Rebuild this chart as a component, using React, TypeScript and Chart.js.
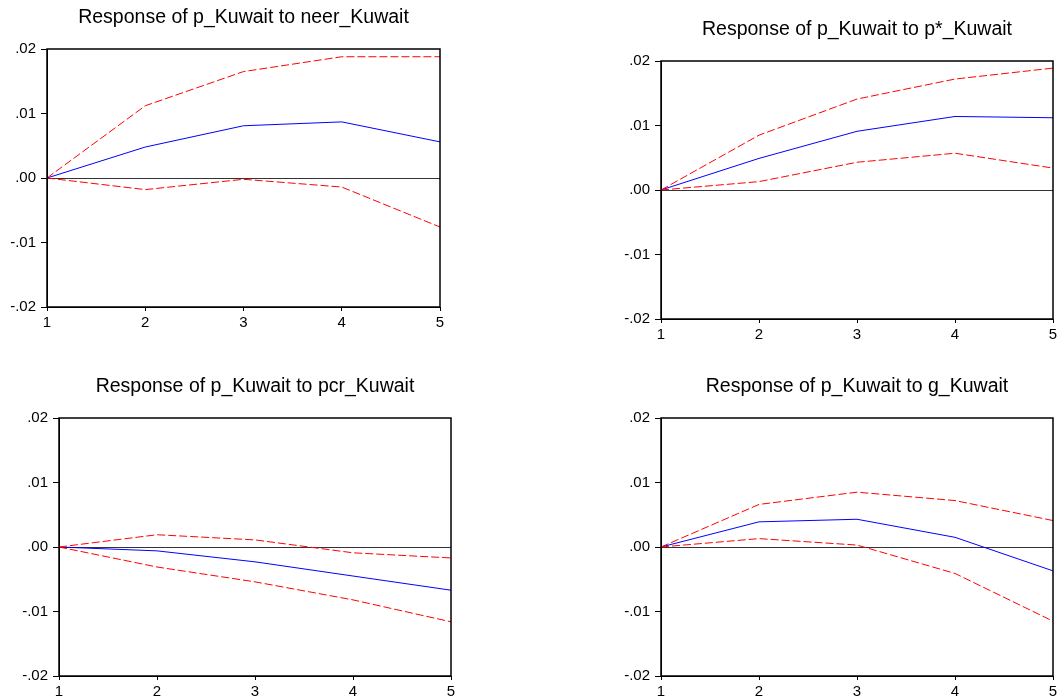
import React, { useEffect, useRef } from "react";
import { Chart, registerables } from "chart.js";

Chart.register(...registerables);

const periods = ["1", "2", "3", "4", "5"];
const yTicks = [-0.02, -0.01, 0, 0.01, 0.02];

const titleNeer = "Response of p_Kuwait to neer_Kuwait";
const neerResp = [0, 0.0048, 0.0081, 0.0087, 0.0056];
const neerUpper = [0, 0.0112, 0.0165, 0.0188, 0.0188];
const neerLower = [0, -0.0018, -0.0002, -0.0014, -0.0076];

const titlePstar = "Response of p_Kuwait to p*_Kuwait";
const pstarResp = [0, 0.0049, 0.0091, 0.0114, 0.0112];
const pstarUpper = [0, 0.0085, 0.0141, 0.0172, 0.0189];
const pstarLower = [0, 0.0013, 0.0043, 0.0057, 0.0034];

const titlePcr = "Response of p_Kuwait to pcr_Kuwait";
const pcrResp = [0, -0.0006, -0.0023, -0.0045, -0.0067];
const pcrUpper = [0, 0.0019, 0.0011, -0.0009, -0.0017];
const pcrLower = [0, -0.0031, -0.0054, -0.0082, -0.0116];

const titleG = "Response of p_Kuwait to g_Kuwait";
const gResp = [0, 0.0039, 0.0043, 0.0015, -0.0037];
const gUpper = [0, 0.0066, 0.0085, 0.0072, 0.0041];
const gLower = [0, 0.0013, 0.0003, -0.0041, -0.0115];

const FONT = "'Liberation Sans', Arial, Helvetica, sans-serif";

const framePlugin = {
  id: "frame",
  afterDatasetsDraw(chart: any) {
    const { ctx, chartArea } = chart;
    ctx.save();
    ctx.strokeStyle = "#000";
    ctx.lineWidth = 1.5;
    ctx.strokeRect(chartArea.left, chartArea.top, chartArea.right - chartArea.left, chartArea.bottom - chartArea.top);
    ctx.restore();
  },
};

function fmt(v: number) {
  const r = Math.round(v * 100);
  if (r === 0) return ".00";
  const s = "." + String(Math.abs(r)).padStart(2, "0");
  return r < 0 ? "-" + s : s;
}

type PanelProps = {
  title: string;
  resp: number[];
  upper: number[];
  lower: number[];
  L: number;
  R: number;
  T: number;
  B: number;
};

function Panel({ title, resp, upper, lower, L, R, T, B }: PanelProps) {
  const ref = useRef<HTMLCanvasElement>(null);
  const YW = 47;
  const TOP = 50;
  const XH = 30;
  const width = R - L + 2 * YW;
  const height = B - T + TOP + XH;
  useEffect(() => {
    if (!ref.current) return;
    const dash = [8, 3];
    const chart = new Chart(ref.current, {
      type: "line",
      data: {
        labels: periods,
        datasets: [
          { data: upper, borderColor: "#ff0000", borderWidth: 1, borderDash: dash, pointRadius: 0, tension: 0, fill: false },
          { data: lower, borderColor: "#ff0000", borderWidth: 1, borderDash: dash, pointRadius: 0, tension: 0, fill: false },
          { data: resp, borderColor: "#0000ff", borderWidth: 1, pointRadius: 0, tension: 0, fill: false },
        ],
      },
      options: {
        animation: false,
        responsive: false,
        maintainAspectRatio: false,
        layout: { padding: 0 },
        plugins: {
          legend: { display: false },
          tooltip: { enabled: false },
          title: {
            display: true,
            text: title,
            color: "#000",
            font: { family: FONT, size: 19.5, weight: "normal", lineHeight: 1.2 },
            padding: { top: 6.6, bottom: TOP - 6.6 - 19.5 * 1.2 },
          },
        },
        scales: {
          x: {
            type: "category",
            offset: false,
            grid: { display: true, drawOnChartArea: false, drawTicks: true, tickLength: 4, color: "#000", offset: false },
            border: { display: true, color: "#000", width: 1 },
            ticks: { color: "#000", font: { family: FONT, size: 15 }, padding: 3, maxRotation: 0, autoSkip: false },
            afterFit: (s: any) => {
              s.height = XH;
            },
          },
          y: {
            type: "linear",
            min: -0.02,
            max: 0.02,
            afterBuildTicks: (s: any) => {
              s.ticks = yTicks.map((v) => ({ value: v }));
            },
            grid: {
              display: true,
              drawOnChartArea: true,
              drawTicks: true,
              tickLength: 6,
              color: (c: any) => (c.tick && Math.abs(c.tick.value) < 1e-9 ? "#333" : "rgba(0,0,0,0)"),
              tickColor: "#000",
              lineWidth: 1,
            },
            border: { display: true, color: "#000", width: 1 },
            ticks: { color: "#000", font: { family: FONT, size: 15 }, padding: 5, callback: (v: any) => fmt(Number(v)) },
            afterFit: (s: any) => {
              s.width = YW;
            },
          },
          y2: {
            type: "linear",
            position: "right",
            min: -0.02,
            max: 0.02,
            grid: { display: false },
            border: { display: false },
            ticks: { display: false },
            afterFit: (s: any) => {
              s.width = YW;
            },
          },
        },
      },
      plugins: [framePlugin],
    } as any);
    return () => chart.destroy();
  }, []);
  return (
    <canvas
      ref={ref}
      width={width}
      height={height}
      style={{ position: "absolute", left: L - YW, top: T - TOP, width, height }}
    />
  );
}

export default function App() {
  return (
    <div style={{ position: "absolute", left: 0, top: 0, width: 1061, height: 700, overflow: "hidden", background: "#fff" }}>
      <Panel title={titleNeer} resp={neerResp} upper={neerUpper} lower={neerLower} L={47} R={440} T={49} B={307} />
      <Panel title={titlePstar} resp={pstarResp} upper={pstarUpper} lower={pstarLower} L={661} R={1053} T={61} B={319} />
      <Panel title={titlePcr} resp={pcrResp} upper={pcrUpper} lower={pcrLower} L={59} R={451} T={418} B={676} />
      <Panel title={titleG} resp={gResp} upper={gUpper} lower={gLower} L={661} R={1053} T={418} B={676} />
    </div>
  );
}
